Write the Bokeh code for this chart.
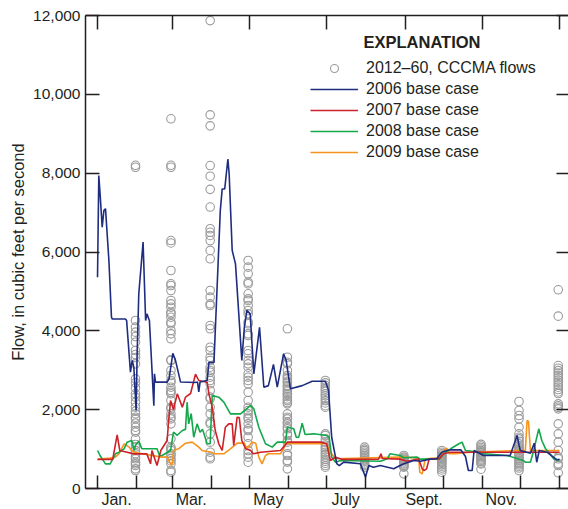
from bokeh.plotting import figure
from bokeh.models import (LinearAxis, FixedTicker, NumeralTickFormatter, Range1d,
                          Legend, LegendItem, Label)
from bokeh.embed import file_html
from bokeh.resources import INLINE

# ---------------- data ----------------
month_start_days = [0, 31, 59, 90, 120, 151, 181, 212, 243, 273, 304, 334, 365]
top_tick_days = [0, 59, 120, 181, 243, 304, 365]
label_days = [15, 74, 135, 196, 258, 319]
month_labels = ["Jan.", "Mar.", "May", "July", "Sept.", "Nov."]
y_ticks = [0, 2000, 4000, 6000, 8000, 10000, 12000]

# CCCMA monthly flows (2012-60), plotted at end of each month
month_end_days = [30, 58, 89, 119, 150, 180, 211, 242, 272, 303, 333, 364]
cccma_jan = [8200, 8150, 4262, 4093, 3966, 3856, 3712, 3501, 3400, 3323, 3163, 2782, 2681,
             2554, 2402, 2318, 2190, 2063, 1961, 1894, 1809, 1767, 1657, 1555, 1471, 1428,
             1260, 1116, 1049, 960, 880, 800, 753, 667, 626, 583, 499, 457]
cccma_feb = [9380, 8200, 8150, 6290, 6230, 5531, 5193, 5150, 5023, 4770, 4685, 4600, 4473,
             4431, 4346, 4219, 4178, 4008, 3924, 3798, 3265, 3247, 2994, 2867, 2740, 2697,
             2570, 2486, 2443, 2402, 2233, 2063, 2021, 1894, 1809, 1767, 1640, 1260, 1049,
             1007, 964, 880, 837, 753, 700, 626, 457, 414]
cccma_mar = [11870, 9480, 9200, 8194, 7923, 7590, 7140, 6590, 6500, 6420, 6290, 6040, 5827,
             5023, 4854, 4685, 4643, 4135, 4051, 3585, 3501, 3331, 3247, 3077, 2994, 2951,
             2824, 2740, 2656, 2486, 2317, 2276, 2063, 1894, 1683, 1640, 1387, 1176, 921,
             795, 753]
cccma_apr = [5785, 5616, 5447, 5235, 5193, 4939, 4812, 4770, 4643, 4516, 4431, 4219, 4178,
             3924, 3882, 3501, 3417, 3247, 3163, 3077, 2910, 2824, 2740, 2655, 2443, 2233,
             2063, 1979, 1894, 1809, 1767, 1640, 1514, 1471, 1302, 1134, 964, 880, 795, 667]
cccma_may = [4051, 3331, 3204, 3163, 2994, 2867, 2824, 2780, 2720, 2690, 2610, 2580, 2520,
             2470, 2410, 2380, 2330, 2270, 2230, 2180, 2148, 1894, 1809, 1767, 1683, 1640,
             1555, 1514, 1387, 1345, 1218, 1176, 1049, 880, 837, 710, 667, 499]
cccma_jun = [2740, 2680, 2620, 2570, 2520, 2470, 2400, 2350, 2290, 2230, 2170, 2100, 2063,
             1387, 1345, 1260, 1180, 1100, 1040, 980, 920, 860, 800, 740, 690, 640, 583, 540]
cccma_jul = [1049, 1000, 960, 920, 880, 840, 800, 760, 720, 690, 650, 610, 580, 540]
cccma_aug = [837, 800, 770, 740, 710, 680, 650, 620, 590, 560, 540, 372]
cccma_sep = [964, 920, 880, 850, 820, 790, 760, 730, 700, 670, 640, 600, 560, 520, 470, 414]
cccma_oct = [1120, 1080, 1040, 1000, 960, 930, 900, 870, 840, 810, 780, 750, 720, 690, 650,
             626, 490]
cccma_nov = [2207, 1979, 1852, 1767, 1555, 1387, 1302, 1260, 1200, 1134, 1090, 1040, 1000,
             960, 920, 880, 840, 800, 760, 720, 680, 640, 600, 560, 520, 457]
cccma_dec = [5041, 4372, 3120, 3050, 2990, 2930, 2870, 2810, 2750, 2690, 2630, 2570, 2510,
             2450, 2410, 2148, 2100, 2060, 2021, 1640, 1387, 1176, 964, 795, 753, 626, 583, 398]

# Daily base-case flows (breakpoints: day of year, flow)
days_2006 = [0, 1, 2, 3.7, 5, 6.3, 9, 11, 11.6, 22, 23, 26, 27.4, 28.7, 30.5, 31.3, 32.6, 36,
             38, 39, 41, 44.5, 45, 45.8, 55, 56.5, 59.5, 61.6, 65.6, 77, 79, 80, 81, 86.6,
             88, 92, 97, 98.5, 100.5, 103, 104, 106.4, 109, 114, 116, 118, 120.6, 123.5,
             128, 131.4, 135, 139, 142, 147, 149, 152.4, 161.7, 169.6, 180, 182.5, 185,
             189, 191, 194.5, 207.7, 211.7, 214.3, 218, 223.5, 234, 239, 242, 250, 255,
             263, 268, 272, 276, 279, 287, 290.7, 293, 296, 297.5, 305, 326, 331.5, 333,
             334, 342, 345, 347, 349, 355, 363, 365]
flow_2006 = [5360, 7940, 7480, 6630, 7050, 7100, 5780, 4350, 4300, 4300, 4260, 2950, 3250,
             3080, 1980, 3420, 4940, 6250, 4260, 4430, 4260, 2100, 2910, 2700, 2700, 2780,
             3430, 3250, 2700, 2690, 2700, 2450, 2700, 2740, 3200, 3200, 7050, 7600, 7600,
             8360, 7980, 6040, 5700, 3250, 4090, 4520, 4430, 2910, 4090, 2570, 2610, 3150,
             2570, 3420, 3250, 2530, 2610, 2720, 2720, 2490, 1300, 630, 580, 670, 626, 290,
             583, 540, 583, 500, 583, 626, 710, 693, 745, 753, 921, 964, 981, 981, 812, 457,
             457, 964, 837, 837, 1345, 1100, 964, 896, 1150, 667, 964, 921, 728, 740]

days_2007 = [0, 12, 15.5, 17.6, 23.4, 28.7, 39, 41.9, 43, 47, 50, 55, 56, 57.7, 60, 63, 67,
             69.5, 73.5, 77.4, 80, 86.6, 88, 90.6, 93, 95.8, 98.5, 101, 103.7, 106.4, 107.6,
             110.3, 112, 114, 117, 121, 123, 128.8, 144.5, 147, 150, 157.7, 176, 181, 184,
             188, 193, 222, 224, 225, 239, 244.6, 253.8, 256.5, 258, 260, 262, 270, 273.5,
             279, 365]
flow_2007 = [740, 740, 1360, 964, 921, 879, 879, 626, 964, 583, 964, 1218, 1650, 2233, 2000,
             2402, 2064, 2317, 2410, 2900, 2740, 2697, 2402, 2064, 1471, 1134, 964, 1555,
             1640, 1640, 1091, 1809, 1800, 1218, 1007, 964, 880, 921, 964, 1049, 1176, 1176,
             1176, 1134, 710, 795, 740, 745, 880, 760, 745, 693, 745, 500, 457, 500, 745,
             753, 880, 921, 920]

days_2008 = [0, 2, 6.3, 10, 14.2, 17, 21, 23.4, 27, 29, 30, 32.6, 35, 47, 49, 51, 57.7, 60,
             63, 67, 69.5, 70.8, 72, 74, 76, 78.7, 81, 83, 86.6, 89, 90.6, 95.8, 99.8, 105,
             113, 121, 123.5, 127.4, 132.7, 138, 142, 148.5, 150, 155, 157, 159, 161.7, 164,
             171, 181, 183, 185, 188, 192, 223.5, 229, 231, 239, 242, 252.5, 255, 270,
             273.5, 279, 285.5, 288, 290.7, 302.5, 305, 323.6, 336.5, 338, 342, 344.6,
             348.6, 351, 354, 356.5, 360.4, 365]
flow_2008 = [964, 837, 626, 626, 880, 921, 1007, 1176, 1218, 964, 1100, 1201, 1007, 1007,
             837, 837, 964, 1429, 1350, 1471, 1500, 2190, 1640, 1900, 1302, 1640, 1429, 1500,
             1134, 1134, 2360, 2317, 2190, 1894, 1894, 2106, 2021, 1555, 1134, 1049, 1176,
             1176, 1555, 1514, 1302, 1302, 1657, 1370, 1387, 1345, 1300, 795, 667, 710, 693,
             753, 880, 838, 780, 795, 745, 745, 880, 1007, 1134, 1176, 964, 921, 880, 838,
             710, 667, 667, 964, 1514, 1218, 1007, 921, 753, 710]

days_2009 = [0, 10, 14, 17, 21, 25, 27, 29, 43, 51, 55, 57.7, 59, 60, 64, 69.5, 74.8, 80,
             82.6, 90, 92, 99.8, 105, 110.3, 116, 118, 122, 125, 127.4, 130, 132.7, 135,
             144.5, 147, 148.5, 156, 181, 183, 188, 239, 253.8, 254.6, 256.5, 258, 259,
             269.6, 273.5, 276, 278, 283, 294.6, 331.5, 338, 339.4, 340.5, 342, 365]
flow_2009 = [740, 770, 795, 880, 1134, 1050, 964, 921, 837, 795, 795, 626, 600, 964, 1007,
             1150, 1176, 1049, 964, 921, 880, 880, 1007, 1150, 1150, 1007, 1176, 1150, 795,
             626, 837, 880, 880, 1007, 1150, 1134, 1134, 964, 753, 795, 778, 414, 372, 600,
             753, 778, 964, 1022, 880, 880, 921, 964, 964, 1725, 1700, 964, 964]

# ---------------- styles ----------------
FONT = "Liberation Sans"
INK = "#231f20"
C2006 = "#1f2d80"
C2007 = "#cc2229"
C2008 = "#12a84b"
C2009 = "#f7941d"
GRAY = "#9b9b9b"

p = figure(frame_width=483, frame_height=473, output_backend="svg", toolbar_location=None,
           x_range=Range1d(-9.5, 372.1), y_range=Range1d(0, 12000),
           x_axis_location=None, y_axis_location=None,
           min_border_left=85, min_border_right=0, min_border_top=15, min_border_bottom=20)
p.outline_line_color = None
p.xgrid.visible = False
p.ygrid.visible = False
p.background_fill_color = "white"
p.border_fill_color = "white"

# scatter points
xs, ys = [], []
for d, vals in zip(month_end_days, [cccma_jan, cccma_feb, cccma_mar, cccma_apr, cccma_may,
                                    cccma_jun, cccma_jul, cccma_aug, cccma_sep, cccma_oct,
                                    cccma_nov, cccma_dec]):
    xs.extend([d] * len(vals))
    ys.extend(vals)
r_sc = p.scatter(xs, ys, marker="circle", size=8.5, fill_color=None,
                 line_color=GRAY, line_width=1.1)

r06 = p.line(days_2006, flow_2006, line_color=C2006, line_width=1.6)
r07 = p.line(days_2007, flow_2007, line_color=C2007, line_width=1.6)
r08 = p.line(days_2008, flow_2008, line_color=C2008, line_width=1.6)
r09 = p.line(days_2009, flow_2009, line_color=C2009, line_width=1.6)
p.renderers = [r_sc, r09, r08, r07, r06]

# axes
def style(ax):
    ax.axis_line_color = INK
    ax.axis_line_width = 1.5
    ax.major_tick_line_color = INK
    ax.minor_tick_line_color = INK
    ax.major_tick_line_width = 1.5
    ax.minor_tick_line_width = 1.5
    ax.major_label_text_font = FONT
    ax.major_label_text_color = INK
    ax.axis_label_text_font = FONT
    ax.axis_label_text_color = INK

xb = LinearAxis(ticker=FixedTicker(ticks=label_days, minor_ticks=month_start_days),
                major_label_overrides={d: t for d, t in zip(label_days, month_labels)})
style(xb)
xb.major_tick_in = 0
xb.major_tick_out = 0
xb.minor_tick_in = 13
xb.minor_tick_out = 0
xb.major_label_text_font_size = "16px"
xb.major_label_standoff = 2
p.add_layout(xb, "below")

# top axis: ticks only (as minor ticks, no labels)
xt = LinearAxis(ticker=FixedTicker(ticks=[], minor_ticks=top_tick_days))
style(xt)
xt.minor_tick_in = 14
xt.minor_tick_out = 0
xt.major_tick_in = 0
xt.major_tick_out = 0
xt.major_label_standoff = 0
p.add_layout(xt, "above")

yl = LinearAxis(ticker=FixedTicker(ticks=y_ticks, minor_ticks=[]),
                formatter=NumeralTickFormatter(format="0,0"),
                axis_label="Flow, in cubic feet per second")
style(yl)
yl.major_tick_in = 14
yl.major_tick_out = 0
yl.major_label_text_font_size = "15.5px"
yl.major_label_standoff = 5
yl.axis_label_text_font_size = "16.5px"
yl.axis_label_text_font_style = "normal"
yl.axis_label_standoff = 3
p.add_layout(yl, "left")

# right axis: ticks only, frame edge lies at the window edge
yr = LinearAxis(ticker=FixedTicker(ticks=[], minor_ticks=y_ticks))
style(yr)
yr.axis_line_color = None
yr.minor_tick_in = 12
yr.minor_tick_out = 0
yr.major_tick_in = 0
yr.major_tick_out = 0
yr.major_label_standoff = 0
p.add_layout(yr, "right")

legend = Legend(items=[LegendItem(label="2012\u201360, CCCMA flows", renderers=[r_sc]),
                       LegendItem(label="2006 base case", renderers=[r06]),
                       LegendItem(label="2007 base case", renderers=[r07]),
                       LegendItem(label="2008 base case", renderers=[r08]),
                       LegendItem(label="2009 base case", renderers=[r09])],
                location=(225, 326), glyph_width=48, glyph_height=20, label_height=20,
                label_standoff=8, spacing=1, padding=0, margin=0,
                border_line_color=None, background_fill_alpha=0,
                label_text_font=FONT, label_text_font_size="16px", label_text_color=INK)
p.add_layout(legend)

p.add_layout(Label(x=278, y=447, x_units="screen", y_units="screen", text="EXPLANATION",
                   text_font=FONT, text_font_style="bold", text_font_size="16.5px",
                   text_color=INK, text_baseline="middle"))

open("out.html", "w").write(file_html(p, INLINE))
